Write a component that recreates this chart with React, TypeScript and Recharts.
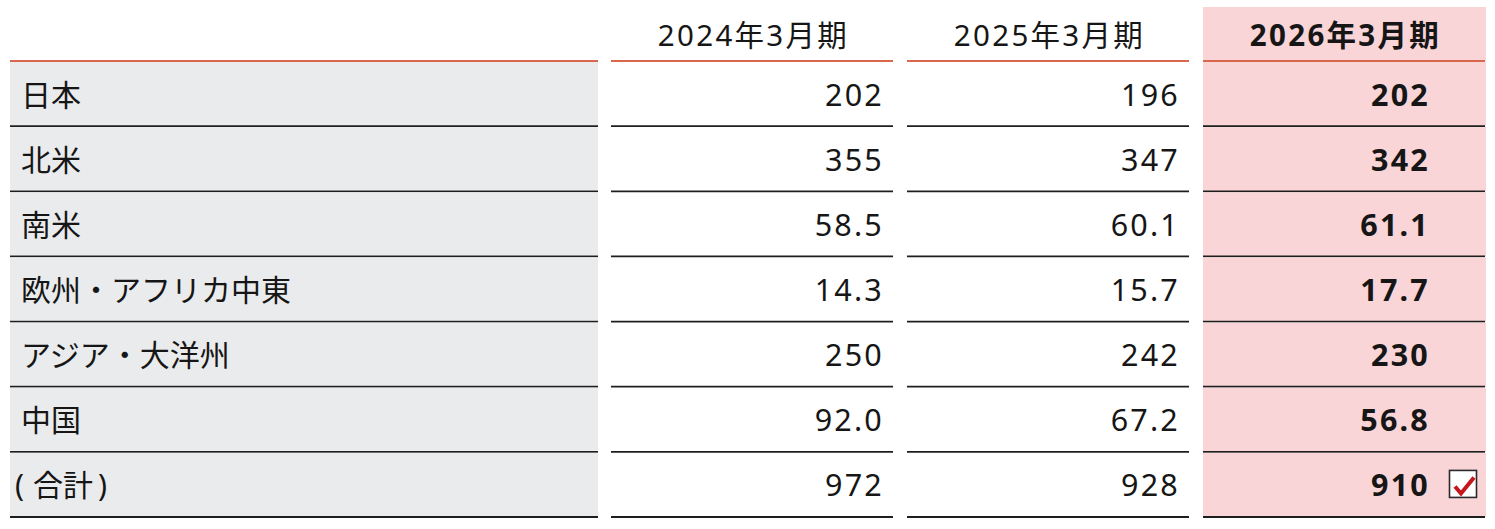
import React from "react";
import { ScatterChart, Scatter, XAxis, YAxis } from "recharts";

// ---- data ----
const periods = ["2024年3月期", "2025年3月期", "2026年3月期"];
const regions = ["日本", "北米", "南米", "欧州・アフリカ中東", "アジア・大洋州", "中国", "(合計)"];
const values2024 = [202, 355, 58.5, 14.3, 250, 92.0, 972];
const values2025 = [196, 347, 60.1, 15.7, 242, 67.2, 928];
const values2026 = [202, 342, 61.1, 17.7, 230, 56.8, 910];
const highlightPeriod = "2026年3月期";
const checkedRegion = "(合計)";

const seriesByPeriod: Record<string, number[]> = {
  "2024年3月期": values2024,
  "2025年3月期": values2025,
  "2026年3月期": values2026,
};

// ---- layout / style ----
const W = 1495;
const H = 529;
const MARGIN = { top: 7, right: 3, bottom: 12, left: 0 };
const HEADER_H = 54;
const LABEL_W = 604;
const PLOT_TOP = MARGIN.top + HEADER_H;
const PLOT_H = H - PLOT_TOP - MARGIN.bottom;
const ROW_H = PLOT_H / regions.length;
const BAND_W = (W - MARGIN.right - LABEL_W) / periods.length;
const CELL_HALF = BAND_W / 2 - 7;
const LINE_W = 1.8;

const FONT = "'Noto Sans', 'Noto Sans CJK JP', sans-serif";
const TEXT = "#161616";
const GREY = "#eaebec";
const PINK = "#f9d5d7";
const ORANGE = "#d8674c";
const LINE = "#1e1e1e";

const fmt = (v: number) => (v >= 100 ? String(Math.round(v)) : v.toFixed(1));

const HeaderTick = (props: any) => {
  const { x, payload } = props;
  const hl = payload.value === highlightPeriod;
  return (
    <g>
      {hl && (
        <rect x={x - CELL_HALF} y={MARGIN.top} width={CELL_HALF * 2 + 1} height={HEADER_H} fill={PINK} />
      )}
      <text
        x={x + 1.5}
        y={MARGIN.top + 39}
        textAnchor="middle"
        fontFamily={FONT}
        fontSize={29.5}
        fontWeight={hl ? 700 : 400}
        letterSpacing={2.3}
        fill={TEXT}
      >
        {payload.value}
      </text>
      <line x1={x - CELL_HALF} x2={x + CELL_HALF} y1={PLOT_TOP} y2={PLOT_TOP} stroke={ORANGE} strokeWidth={2} />
    </g>
  );
};

const RowLabel = ({ label, y }: { label: string; y: number }) => {
  const paren = label.startsWith("(") && label.endsWith(")");
  if (paren) {
    return (
      <text x={15} y={y} textAnchor="start" fontFamily={FONT} fontSize={30} fill={TEXT}>
        <tspan>(</tspan>
        <tspan dx={9}>{label.slice(1, -1)}</tspan>
        <tspan dx={5}>)</tspan>
      </text>
    );
  }
  return (
    <text x={21} y={y} textAnchor="start" fontFamily={FONT} fontSize={30} fill={TEXT}>
      {label}
    </text>
  );
};

const RowTick = (props: any) => {
  const { y, payload, index } = props;
  const top = y - ROW_H / 2;
  return (
    <g>
      <rect x={10} y={top + 1} width={588} height={ROW_H - 2} fill={GREY} />
      {index === 0 && <line x1={10} x2={598} y1={top} y2={top} stroke={ORANGE} strokeWidth={2} />}
      <line x1={10} x2={598} y1={top + ROW_H} y2={top + ROW_H} stroke={LINE} strokeWidth={LINE_W} />
      <RowLabel label={payload.value} y={y + 12} />
    </g>
  );
};

const CellShape = (props: any) => {
  const { cx, cy, payload } = props;
  if (cx == null || cy == null) return null;
  const hl = payload.period === highlightPeriod;
  const checked = hl && payload.region === checkedRegion;
  const top = cy - ROW_H / 2;
  return (
    <g>
      {hl && <rect x={cx - CELL_HALF} y={top + 1} width={CELL_HALF * 2 + 1} height={ROW_H - 1} fill={PINK} />}
      <line x1={cx - CELL_HALF} x2={cx + CELL_HALF} y1={top + ROW_H} y2={top + ROW_H} stroke={LINE} strokeWidth={LINE_W} />
      <text
        x={hl ? cx + 86 : cx + 132}
        y={cy + 12}
        textAnchor="end"
        fontFamily={FONT}
        fontSize={30.5}
        fontWeight={hl ? 700 : 400}
        letterSpacing={2.2}
        fill={TEXT}
      >
        {fmt(payload.value)}
      </text>
      {checked && (
        <g>
          <rect x={cx + 105.5} y={cy - 14} width={27} height={27} fill="#ffffff" stroke="#2a2a2a" strokeWidth={1.6} />
          <path
            d={`M ${cx + 111} ${cy + 2} L ${cx + 117} ${cy + 9} L ${cx + 130} ${cy - 7}`}
            fill="none"
            stroke="#c4161c"
            strokeWidth={4}
            strokeLinejoin="miter"
          />
        </g>
      )}
    </g>
  );
};

export default function App() {
  return (
    <div style={{ position: "absolute", left: 0, top: 0, background: "#fff" }}>
      <ScatterChart width={W} height={H} margin={MARGIN}>
        <XAxis
          xAxisId="p"
          type="category"
          dataKey="period"
          orientation="top"
          height={HEADER_H}
          allowDuplicatedCategory={false}
          axisLine={false}
          tickLine={false}
          tick={<HeaderTick />}
          interval={0}
        />
        <YAxis
          yAxisId="r"
          type="category"
          dataKey="region"
          width={LABEL_W}
          reversed
          allowDuplicatedCategory={false}
          axisLine={false}
          tickLine={false}
          tick={<RowTick />}
          interval={0}
        />
        {periods.map((p) => (
          <Scatter
            key={p}
            xAxisId="p"
            yAxisId="r"
            data={regions.map((r, i) => ({ period: p, region: r, value: seriesByPeriod[p][i] }))}
            shape={<CellShape />}
            isAnimationActive={false}
          />
        ))}
      </ScatterChart>
    </div>
  );
}
